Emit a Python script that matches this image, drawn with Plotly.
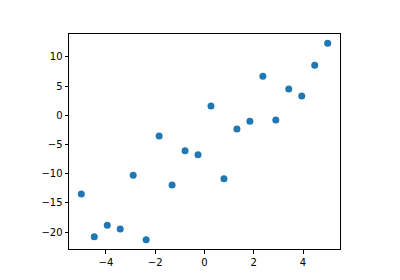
import plotly.graph_objects as go

x_vals = [-5.0, -4.474, -3.947, -3.421, -2.895, -2.368, -1.842, -1.316, -0.789, -0.263,
          0.263, 0.789, 1.316, 1.842, 2.368, 2.895, 3.421, 3.947, 4.474, 5.0]
y_vals = [-13.49, -20.8, -18.85, -19.49, -10.28, -21.32, -3.55, -11.95, -6.06, -6.75,
          1.59, -10.86, -2.35, -1.03, 6.68, -0.81, 4.51, 3.31, 8.57, 12.34]
x_ticks = [-4, -2, 0, 2, 4]
y_ticks = [-20, -15, -10, -5, 0, 5, 10]

fig = go.Figure(go.Scatter(
    x=x_vals, y=y_vals, mode="markers",
    marker=dict(color="#1f77b4", size=7, line=dict(width=0)),
))

axis_common = dict(
    showgrid=False, zeroline=False, showline=True, mirror=True,
    linecolor="#000000", linewidth=1, ticks="outside", ticklen=3.5,
    tickwidth=1, tickcolor="#000000",
    tickfont=dict(family="DejaVu Sans", size=10, color="#000000"),
)
fig.update_xaxes(range=[-5.5, 5.5], tickvals=x_ticks, **axis_common)
fig.update_yaxes(range=[-22.9, 13.93], tickvals=y_ticks, **axis_common)

fig.update_layout(
    width=400, height=280,
    margin=dict(l=69, r=60, t=34, b=31),
    paper_bgcolor="white", plot_bgcolor="white",
    showlegend=False,
)

fig.write_html("out.html")
